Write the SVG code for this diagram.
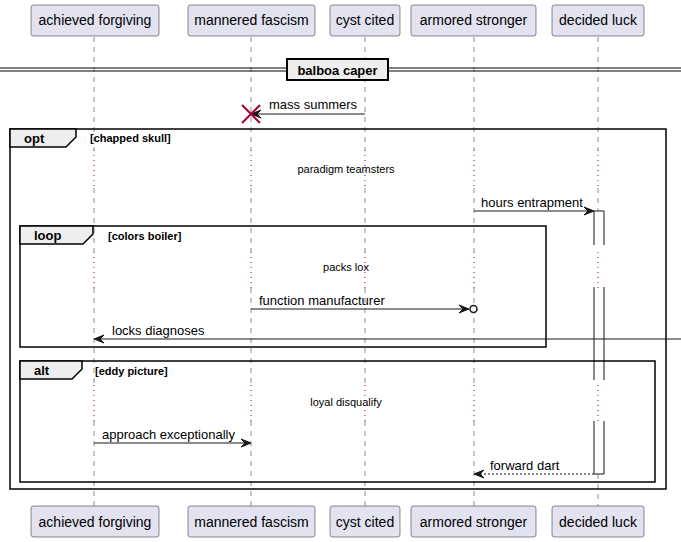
<svg xmlns="http://www.w3.org/2000/svg" width="681" height="542" viewBox="0 0 681 542">
<defs>
<style>
.part rect{fill:#E2E2F0;stroke:#181818;stroke-width:0.5}
.part text{font-family:"Liberation Sans",Arial,sans-serif;font-size:14px;fill:#000;text-anchor:middle}
.life{stroke:#181818;stroke-width:0.5;stroke-dasharray:5,5}
.dot{stroke:#A80036;stroke-width:1;stroke-dasharray:1,4}
.msg{stroke:#181818;stroke-width:1;fill:none}
.dash{stroke:#181818;stroke-width:1;stroke-dasharray:2,2;fill:none}
.head{fill:#181818;stroke:#181818;stroke-width:1}
.mt{font-family:"Liberation Sans",Arial,sans-serif;font-size:13px;fill:#000}
.dt{font-family:"Liberation Sans",Arial,sans-serif;font-size:11px;fill:#000;text-anchor:middle}
.frame{fill:none;stroke:#000;stroke-width:1.5}
.tab{fill:#EEEEEE;stroke:#000;stroke-width:1.5}
.tt{font-family:"Liberation Sans",Arial,sans-serif;font-size:13px;font-weight:bold;fill:#000}
.ct{font-family:"Liberation Sans",Arial,sans-serif;font-size:11px;font-weight:bold;fill:#000}
</style>
</defs>
<rect width="681" height="542" fill="#FFFFFF"/>

<g id="lifelines">
<line class="life" x1="94" y1="37" x2="94" y2="150"/>
<line class="dot" x1="94" y1="150" x2="94" y2="188"/>
<line class="life" x1="94" y1="188" x2="94" y2="252"/>
<line class="dot" x1="94" y1="252" x2="94" y2="288"/>
<line class="life" x1="94" y1="288" x2="94" y2="385"/>
<line class="dot" x1="94" y1="385" x2="94" y2="421"/>
<line class="life" x1="94" y1="421" x2="94" y2="506"/>

<line class="life" x1="251" y1="37" x2="251" y2="150"/>
<line class="dot" x1="251" y1="150" x2="251" y2="188"/>
<line class="life" x1="251" y1="188" x2="251" y2="252"/>
<line class="dot" x1="251" y1="252" x2="251" y2="288"/>
<line class="life" x1="251" y1="288" x2="251" y2="385"/>
<line class="dot" x1="251" y1="385" x2="251" y2="421"/>
<line class="life" x1="251" y1="421" x2="251" y2="506"/>

<line class="life" x1="365" y1="37" x2="365" y2="150"/>
<line class="dot" x1="365" y1="150" x2="365" y2="188"/>
<line class="life" x1="365" y1="188" x2="365" y2="252"/>
<line class="dot" x1="365" y1="252" x2="365" y2="288"/>
<line class="life" x1="365" y1="288" x2="365" y2="385"/>
<line class="dot" x1="365" y1="385" x2="365" y2="421"/>
<line class="life" x1="365" y1="421" x2="365" y2="506"/>

<line class="life" x1="474" y1="37" x2="474" y2="150"/>
<line class="dot" x1="474" y1="150" x2="474" y2="188"/>
<line class="life" x1="474" y1="188" x2="474" y2="252"/>
<line class="dot" x1="474" y1="252" x2="474" y2="288"/>
<line class="life" x1="474" y1="288" x2="474" y2="385"/>
<line class="dot" x1="474" y1="385" x2="474" y2="421"/>
<line class="life" x1="474" y1="421" x2="474" y2="506"/>

<line class="life" x1="598" y1="37" x2="598" y2="150"/>
<line class="dot" x1="598" y1="150" x2="598" y2="188"/>
<line class="life" x1="598" y1="188" x2="598" y2="211"/>
<line class="life" x1="598" y1="474" x2="598" y2="506"/>
</g>

<g id="activation">
<rect x="594" y="211" width="10" height="263" fill="#FFFFFF" stroke="none"/>
<line class="dot" x1="598" y1="252" x2="598" y2="288"/>
<line class="dot" x1="598" y1="385" x2="598" y2="421"/>
<path d="M594,245 V211 H604 V245 M594,287 V380 M604,287 V380 M594,421 V474 H604 V421" fill="none" stroke="#181818" stroke-width="1"/>
</g>

<g id="divider">
<line x1="0" y1="68" x2="681" y2="68" stroke="#000" stroke-width="1"/>
<line x1="0" y1="71" x2="681" y2="71" stroke="#000" stroke-width="1"/>
<rect x="287" y="59" width="101" height="21" fill="#EEEEEE" stroke="#000" stroke-width="2"/>
<text class="tt" x="337.5" y="75" text-anchor="middle">balboa caper</text>
</g>

<g id="frames">
<rect class="frame" x="10" y="129" width="656" height="360"/>
<path class="tab" d="M10,129 H76 V137 L66,147 H10 Z"/>
<text class="tt" x="24" y="143">opt</text>
<text class="ct" x="90" y="142">[chapped skull]</text>

<rect class="frame" x="20" y="226" width="526" height="121"/>
<path class="tab" d="M20,226 H93 V234 L83,244 H20 Z"/>
<text class="tt" x="34" y="240">loop</text>
<text class="ct" x="108" y="240">[colors boiler]</text>

<rect class="frame" x="20" y="361" width="635" height="121"/>
<path class="tab" d="M20,361 H82 V369 L72,379 H20 Z"/>
<text class="tt" x="34" y="375">alt</text>
<text class="ct" x="95" y="375">[eddy picture]</text>
</g>

<g id="delays">
<text class="dt" x="346" y="173">paradigm teamsters</text>
<text class="dt" x="346" y="271">packs lox</text>
<text class="dt" x="346" y="406">loyal disqualify</text>
</g>

<g id="connectors">
<line class="msg" x1="365" y1="114" x2="253" y2="114"/>
<polygon class="head" points="251,114 261,110 257,114 261,118"/>
<text class="mt" x="269" y="109">mass summers</text>

<line class="msg" x1="474" y1="211" x2="592" y2="211"/>
<polygon class="head" points="594,211 584,207 588,211 584,215"/>
<text class="mt" x="481" y="207">hours entrapment</text>

<line class="msg" x1="251" y1="309" x2="467" y2="309"/>
<polygon class="head" points="469,309 459,305 463,309 459,313"/>
<circle cx="473.5" cy="309" r="3.5" fill="#FFFFFF" stroke="#181818" stroke-width="1.5"/>
<text class="mt" x="259" y="305">function manufacturer</text>

<line class="msg" x1="681" y1="339" x2="96" y2="339"/>
<polygon class="head" points="94,339 104,335 100,339 104,343"/>
<text class="mt" x="112" y="335">locks diagnoses</text>

<line class="msg" x1="94" y1="443" x2="249" y2="443"/>
<polygon class="head" points="251,443 241,439 245,443 241,447"/>
<text class="mt" x="102" y="439">approach exceptionally</text>

<line class="dash" x1="594" y1="474" x2="476" y2="474"/>
<polygon class="head" points="474,474 484,470 480,474 484,478"/>
<text class="mt" x="490" y="470">forward dart</text>

<path d="M242,105 L260,123 M260,105 L242,123" stroke="#A80036" stroke-width="2"/>
</g>

<g id="p-achieved" class="part">
<rect x="31" y="5" width="128" height="31" rx="2.5"/>
<text x="95" y="25">achieved forgiving</text>
</g>
<g id="p-mannered" class="part">
<rect x="188" y="5" width="127" height="31" rx="2.5"/>
<text x="251.5" y="25">mannered fascism</text>
</g>
<g id="p-cyst" class="part">
<rect x="330" y="5" width="70" height="31" rx="2.5"/>
<text x="365" y="25">cyst cited</text>
</g>
<g id="p-armored" class="part">
<rect x="411" y="5" width="125" height="31" rx="2.5"/>
<text x="473.5" y="25">armored stronger</text>
</g>
<g id="p-decided" class="part">
<rect x="552" y="5" width="92" height="31" rx="2.5"/>
<text x="598" y="25">decided luck</text>
</g>

<g id="p-achieved-bottom" class="part">
<rect x="31" y="506" width="128" height="31" rx="2.5"/>
<text x="95" y="527">achieved forgiving</text>
</g>
<g id="p-mannered-bottom" class="part">
<rect x="188" y="506" width="127" height="31" rx="2.5"/>
<text x="251.5" y="527">mannered fascism</text>
</g>
<g id="p-cyst-bottom" class="part">
<rect x="330" y="506" width="70" height="31" rx="2.5"/>
<text x="365" y="527">cyst cited</text>
</g>
<g id="p-armored-bottom" class="part">
<rect x="411" y="506" width="125" height="31" rx="2.5"/>
<text x="473.5" y="527">armored stronger</text>
</g>
<g id="p-decided-bottom" class="part">
<rect x="552" y="506" width="92" height="31" rx="2.5"/>
<text x="598" y="527">decided luck</text>
</g>
</svg>
